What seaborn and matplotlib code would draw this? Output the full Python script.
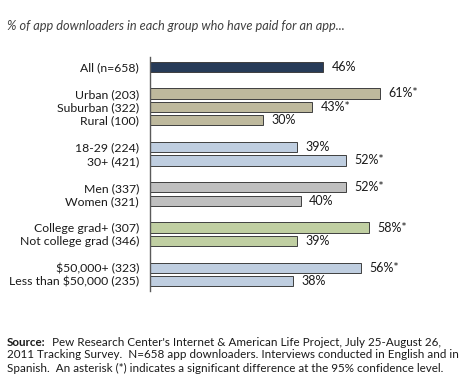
"""
bar chart: share of app downloaders who have paid for an app, by group
"""

import matplotlib
matplotlib.use("Agg")
import matplotlib.pyplot as plt
import seaborn as sns
import pandas as pd

# data
labels = ["All (n=658)",
          "Urban (203)", "Suburban (322)", "Rural (100)",
          "18-29 (224)", "30+ (421)",
          "Men (337)", "Women (321)",
          "College grad+ (307)", "Not college grad (346)",
          "$50,000+ (323)", "Less than $50,000 (235)"]
values = [46, 61, 43, 30, 39, 52, 52, 40, 58, 39, 56, 38]
significant = [False, True, True, False, False, True, True, False, True, False, True, False]
groups = ["all", "place", "place", "place", "age", "age",
          "sex", "sex", "edu", "edu", "income", "income"]
positions = [0, 2, 3, 4, 6, 7, 9, 10, 12, 13, 15, 16]

palette = {"all": "#1F3A60", "place": "#C4BD97", "age": "#B9CDE5",
           "sex": "#BFBFBF", "edu": "#C3D69B", "income": "#B9CDE5"}

df = pd.DataFrame({"label": labels, "value": values, "group": groups,
                   "pos": positions, "sig": significant})

sns.set_style("white")
plt.rcParams["font.family"] = ["Lato", "DejaVu Sans"]

fig = plt.figure(figsize=(4.7, 3.82), dpi=100)
ax = fig.add_axes([150 / 470, 1 - 290.5 / 382, 301.6 / 470, 233.2 / 382])

sns.barplot(data=df, x="value", y="pos", hue="group", palette=palette,
            orient="h", native_scale=True, dodge=False, width=0.75,
            edgecolor="#3F3F3F", linewidth=0.7, legend=False, ax=ax)

ax.set_xlim(0, 80)
ax.set_ylim(16.7, -0.7)
ax.set_yticks(positions)
ax.set_yticklabels(labels, fontsize=8.8, color="#1A1A1A")
ax.set_xticks([])
ax.set_xlabel("")
ax.set_ylabel("")
ax.tick_params(axis="y", length=0, pad=8)
for side in ["top", "right", "bottom"]:
    ax.spines[side].set_visible(False)
ax.spines["left"].set_color("#5A5A5A")
ax.spines["left"].set_linewidth(1.0)

for _, row in df.iterrows():
    txt = f"{row['value']}%" + ("*" if row["sig"] else "")
    ax.annotate(txt, xy=(row["value"], row["pos"]), xytext=(6, 0),
                textcoords="offset points", va="center", ha="left",
                fontsize=9, color="#1A1A1A")

fig.text(7 / 470, 1 - 26 / 382,
         "% of app downloaders in each group who have paid for an app...",
         fontsize=9.2, style="italic", color="#404040", va="center", ha="left")

src = fig.text(7 / 470, 1 - 342 / 382, "Source:", fontsize=8.4, fontweight="bold",
               color="#1A1A1A", va="center", ha="left")
ax.annotate("  Pew Research Center's Internet & American Life Project, July 25-August 26,",
            xy=(1, 0.5), xycoords=src, va="center", ha="left",
            fontsize=8.4, color="#1A1A1A")
fig.text(7 / 470, 1 - 355 / 382,
         "2011 Tracking Survey.  N=658 app downloaders. Interviews conducted in English and in",
         fontsize=8.4, color="#1A1A1A", va="center", ha="left")
fig.text(7 / 470, 1 - 368 / 382,
         "Spanish.  An asterisk (*) indicates a significant difference at the 95% confidence level.",
         fontsize=8.4, color="#1A1A1A", va="center", ha="left")

fig.savefig("out.png", dpi=100, facecolor="white")
plt.close(fig)
